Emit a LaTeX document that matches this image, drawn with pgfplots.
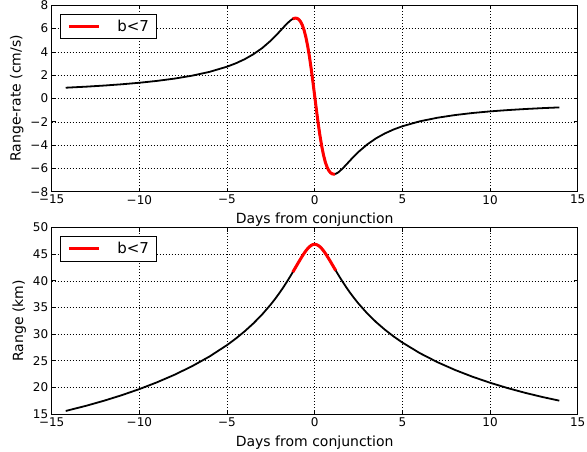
\documentclass[border=0pt]{standalone}
\usepackage{pgfplots}
\pgfplotsset{compat=1.18}
\usepackage{fontspec}
\setmainfont{DejaVu Sans}

\pgfplotstableread[row sep=\\]{
t r\\
-14.2 0.920\\ -13 1.014\\ -12 1.107\\ -11 1.216\\ -10 1.346\\ -9 1.505\\ -8 1.702\\ -7 1.952\\ -6 2.280\\ -5 2.726\\
-4.5 3.014\\ -4 3.362\\ -3.5 3.789\\ -3 4.315\\ -2.5 4.965\\ -2.25 5.339\\ -2 5.739\\ -1.8 6.070\\ -1.6 6.390\\ -1.4 6.671\\
-1.3 6.780\\ -1.2 6.858\\ -1.1 6.892\\ -1.0 6.868\\ -0.9 6.769\\ -0.8 6.576\\ -0.7 6.269\\ -0.6 5.829\\ -0.5 5.239\\ -0.4 4.491\\
-0.3 3.588\\ -0.2 2.546\\ -0.1 1.401\\ 0 0.200\\ 0.1 -1.001\\ 0.2 -2.146\\ 0.3 -3.188\\ 0.4 -4.091\\ 0.5 -4.840\\ 0.6 -5.430\\
0.7 -5.870\\ 0.8 -6.177\\ 0.9 -6.371\\ 1.0 -6.470\\ 1.1 -6.495\\ 1.2 -6.462\\ 1.3 -6.385\\ 1.4 -6.276\\ 1.6 -5.997\\ 1.8 -5.679\\
2 -5.350\\ 2.25 -4.952\\ 2.5 -4.581\\ 3 -3.939\\ 3.5 -3.420\\ 4 -3.002\\ 4.5 -2.663\\ 5 -2.385\\ 6 -1.960\\ 7 -1.654\\
8 -1.425\\ 9 -1.249\\ 10 -1.110\\ 11 -0.999\\ 12 -0.907\\ 13 -0.830\\ 13.95 -0.768\\
}\raterow

\pgfplotstableread[row sep=\\]{
t r\\
-1.25 6.822\\ -1.2 6.858\\ -1.1 6.892\\ -1.0 6.868\\ -0.9 6.769\\ -0.8 6.576\\ -0.7 6.269\\ -0.6 5.829\\ -0.5 5.239\\ -0.4 4.491\\
-0.3 3.588\\ -0.2 2.546\\ -0.1 1.401\\ 0 0.200\\ 0.1 -1.001\\ 0.2 -2.146\\ 0.3 -3.188\\ 0.4 -4.091\\ 0.5 -4.840\\ 0.6 -5.430\\
0.7 -5.870\\ 0.8 -6.177\\ 0.9 -6.371\\ 1.0 -6.470\\ 1.1 -6.495\\ 1.15 -6.482\\
}\rateredrow

\pgfplotstableread[row sep=\\]{
t r\\
-14.2 15.570\\ -13 16.574\\ -12 17.507\\ -11 18.536\\ -10 19.675\\ -9 20.940\\ -8 22.358\\ -7 23.958\\ -6 25.792\\ -5 27.934\\
-4.5 29.152\\ -4 30.498\\ -3.5 31.992\\ -3 33.671\\ -2.5 35.578\\ -2.25 36.630\\ -2 37.760\\ -1.8 38.721\\ -1.6 39.734\\ -1.4 40.798\\
-1.2 41.902\\ -1.1 42.465\\ -1.0 43.029\\ -0.9 43.589\\ -0.8 44.141\\ -0.7 44.674\\ -0.6 45.179\\ -0.5 45.641\\ -0.4 46.049\\ -0.3 46.386\\
-0.2 46.639\\ -0.1 46.797\\ 0 46.850\\ 0.1 46.797\\ 0.2 46.639\\ 0.3 46.386\\ 0.4 46.049\\ 0.5 45.643\\ 0.6 45.182\\ 0.7 44.678\\
0.8 44.147\\ 0.9 43.599\\ 1.0 43.042\\ 1.1 42.481\\ 1.2 41.924\\ 1.4 40.830\\ 1.6 39.780\\ 1.8 38.783\\ 2 37.840\\ 2.25 36.736\\
2.5 35.711\\ 3 33.866\\ 3.5 32.255\\ 4 30.831\\ 4.5 29.558\\ 5 28.412\\ 6 26.416\\ 7 24.727\\ 8 23.270\\ 9 21.993\\
10 20.867\\ 11 19.867\\ 12 18.975\\ 13 18.179\\ 13.95 17.504\\
}\rangerow

\pgfplotstableread[row sep=\\]{
t r\\
-1.25 41.62\\ -1.2 41.902\\ -1.1 42.465\\ -1.0 43.029\\ -0.9 43.589\\ -0.8 44.141\\ -0.7 44.674\\ -0.6 45.179\\ -0.5 45.641\\ -0.4 46.049\\ -0.3 46.386\\
-0.2 46.639\\ -0.1 46.797\\ 0 46.850\\ 0.1 46.797\\ 0.2 46.639\\ 0.3 46.386\\ 0.4 46.049\\ 0.5 45.643\\ 0.6 45.182\\ 0.7 44.678\\
0.8 44.147\\ 0.9 43.599\\ 1.0 43.042\\ 1.1 42.481\\ 1.2 41.924\\
}\rangeredrow

\pgfplotsset{
  myax/.style={
    scale only axis, width=526pt, height=186.5pt,
    xmin=-15, xmax=15,
    xtick={-15,-10,-5,0,5,10,15},
    xticklabels={−15,−10,−5,0,5,10,15},
    grid=major, grid style={black, line width=0.5pt, dash pattern=on 0.8pt off 2.2pt},
    tick align=inside, major tick length=4pt,
    tick style={black, line width=0.6pt},
    axis line style={black, line width=0.8pt},
    ticklabel style={font=\fontsize{12}{14}\selectfont},
    label style={font=\fontsize{14}{16}\selectfont},
    xlabel={Days from conjunction},
    xlabel style={yshift=-2pt},
    legend style={at={(0.0158,0.955)}, anchor=north west, draw=black,
      line width=0.6pt, fill=white, inner xsep=7pt, inner ysep=6pt,
      font=\fontsize{15}{17}\selectfont, legend cell align=left,
      nodes={inner sep=0pt}},
    legend image code/.code={\path (0pt,0pt) -- (30pt,0pt);
      \draw[##1] (3pt,0pt) -- (30pt,0pt);},
  }
}

\begin{document}
\begin{tikzpicture}
\useasboundingbox (-51.7pt,-260.3pt) rectangle (535.3pt,191.7pt);
\begin{axis}[myax, at={(0pt,0pt)},
  ymin=-8, ymax=8, ytick={-8,-6,-4,-2,0,2,4,6,8},
  yticklabels={−8,−6,−4,−2,0,2,4,6,8},
  ylabel={Range-rate (cm/s)}]
\addplot[black, line width=1.8pt, line join=round, forget plot] table[x=t,y=r] {\raterow};
\addplot[red, line width=3pt, line join=round] table[x=t,y=r] {\rateredrow};
\addlegendentry{\hspace{17pt}b<7}
\end{axis}
\begin{axis}[myax, at={(0pt,-222.3pt)},
  ymin=15, ymax=50, ytick={15,20,25,30,35,40,45,50},
  yticklabels={15,20,25,30,35,40,45,50},
  ylabel={Range (km)}]
\addplot[black, line width=1.8pt, line join=round, forget plot] table[x=t,y=r] {\rangerow};
\addplot[red, line width=3pt, line join=round] table[x=t,y=r] {\rangeredrow};
\addlegendentry{\hspace{17pt}b<7}
\end{axis}
\end{tikzpicture}
\end{document}
